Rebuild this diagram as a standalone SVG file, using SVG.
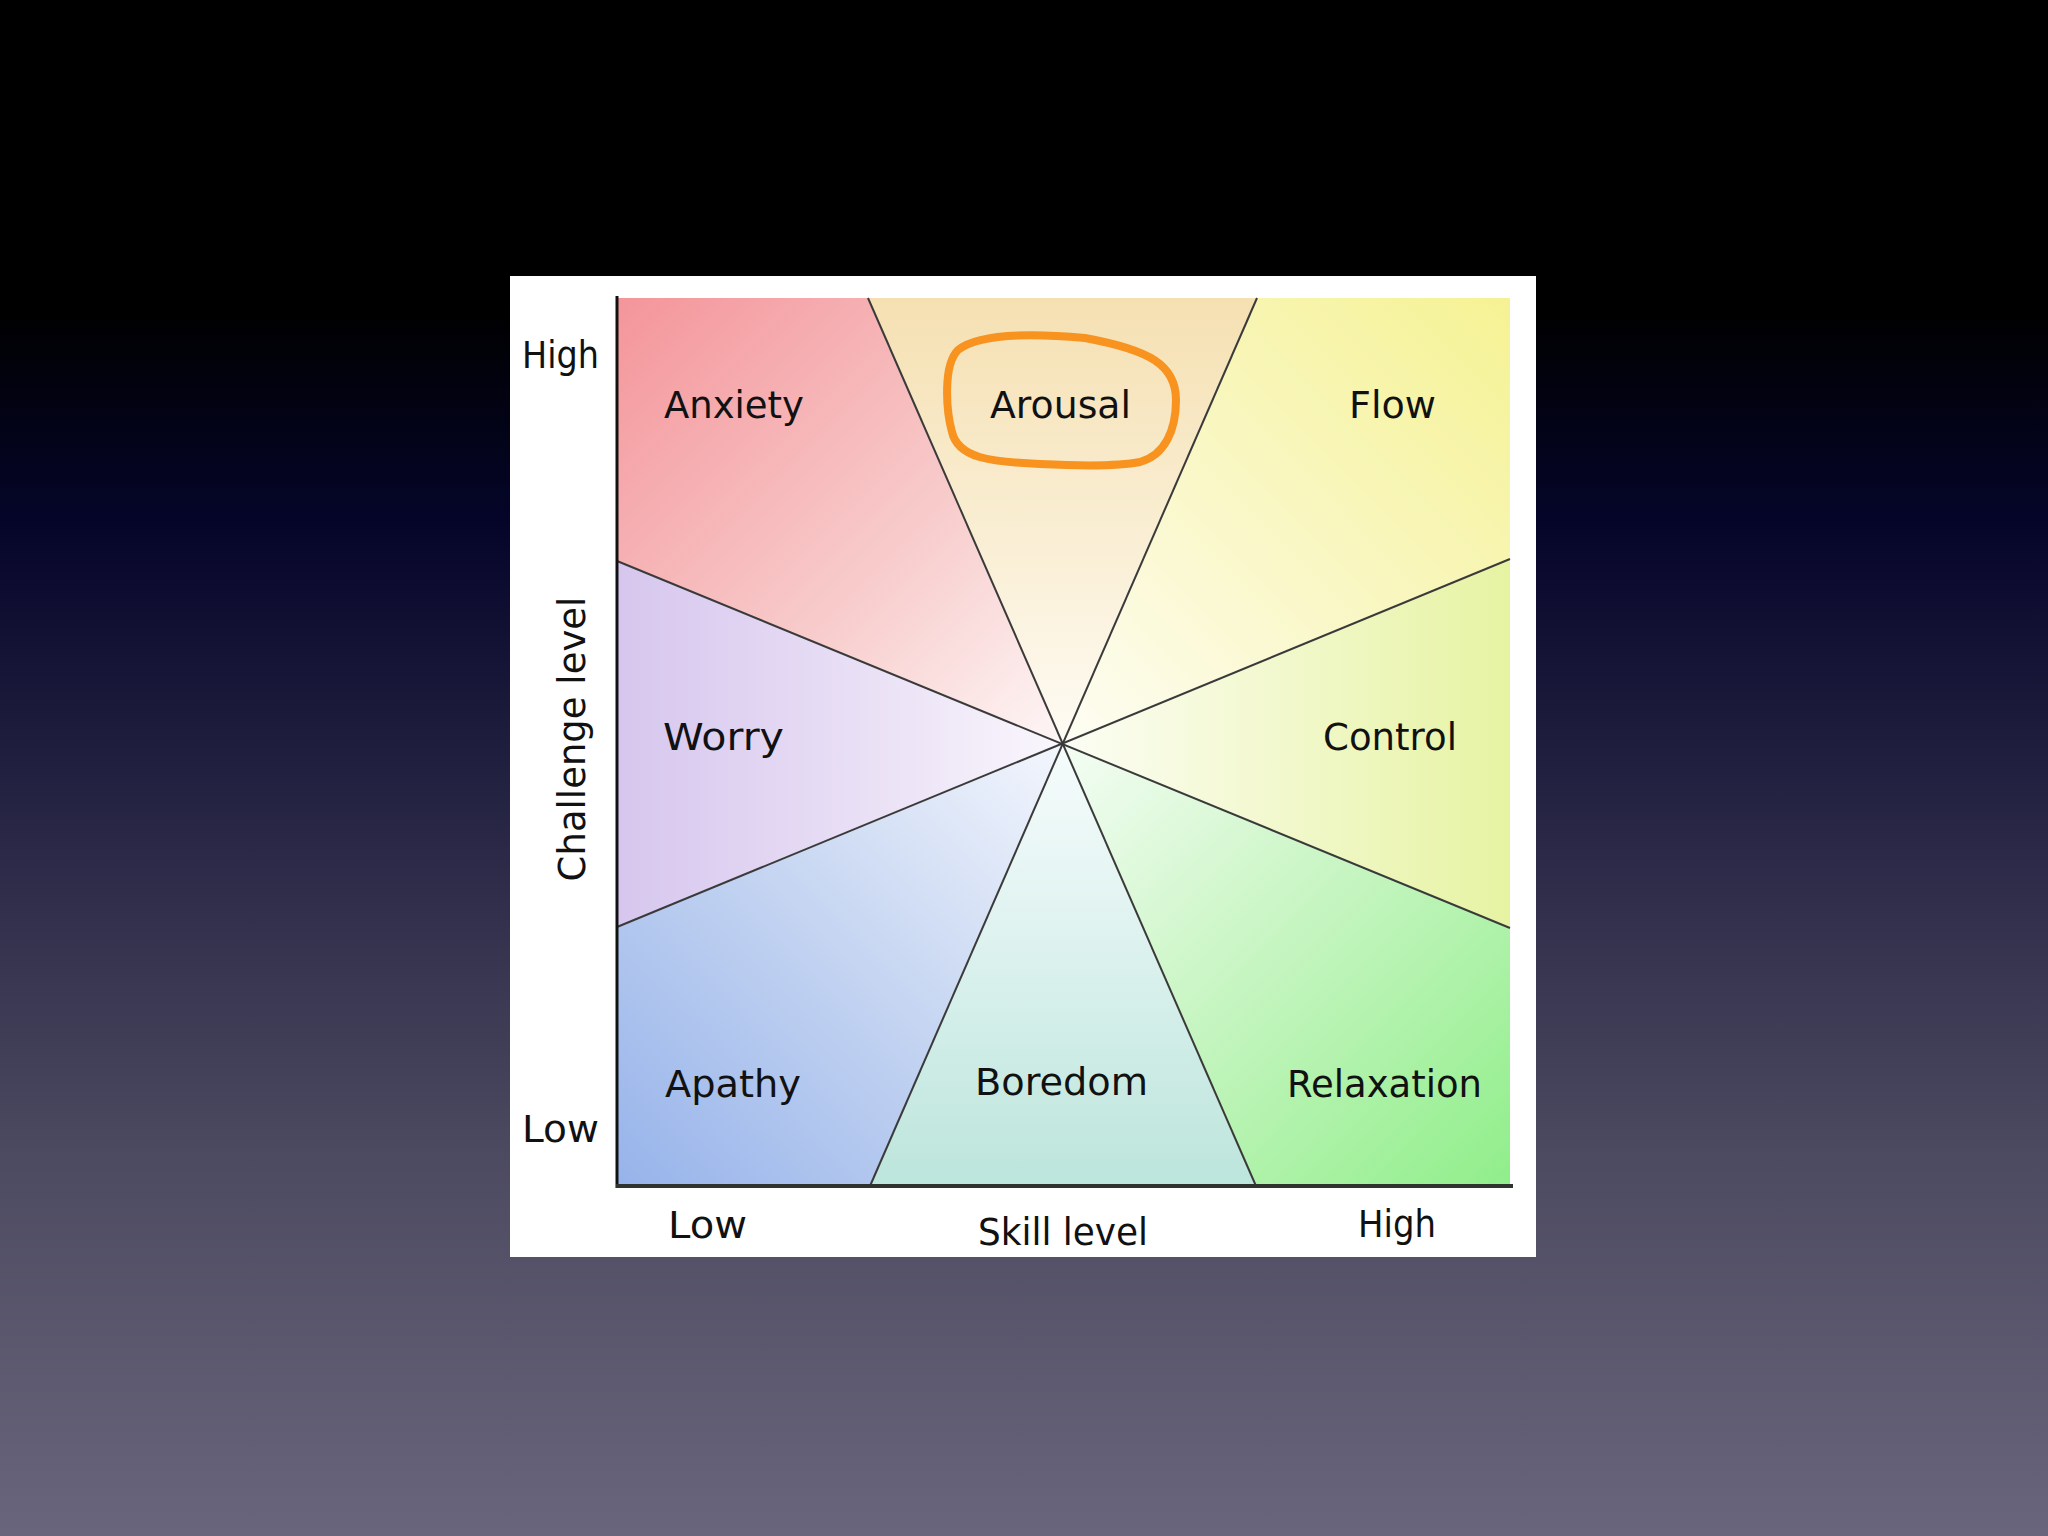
<svg xmlns="http://www.w3.org/2000/svg" width="2048" height="1536" viewBox="0 0 2048 1536">
<defs>
<linearGradient id="bg" x1="0" y1="0" x2="0" y2="1">
<stop offset="0" stop-color="#000000"/>
<stop offset="0.2" stop-color="#000000"/>
<stop offset="0.34" stop-color="#05052a"/>
<stop offset="0.55" stop-color="#2a2846"/>
<stop offset="0.75" stop-color="#4c4a60"/>
<stop offset="1" stop-color="#69657c"/>
</linearGradient>
<linearGradient id="gAnx" gradientUnits="userSpaceOnUse" x1="617" y1="298" x2="1063" y2="744"><stop offset="0" stop-color="#f4959a"/><stop offset="0.6" stop-color="#f8cccc"/><stop offset="1" stop-color="#fef6f6"/></linearGradient>
<linearGradient id="gAro" gradientUnits="userSpaceOnUse" x1="1063" y1="298" x2="1063" y2="744"><stop offset="0" stop-color="#f5e0b2"/><stop offset="0.6" stop-color="#faf0d8"/><stop offset="1" stop-color="#fefbf4"/></linearGradient>
<linearGradient id="gFlo" gradientUnits="userSpaceOnUse" x1="1510" y1="298" x2="1063" y2="744"><stop offset="0" stop-color="#f5f294"/><stop offset="0.6" stop-color="#faf8cc"/><stop offset="1" stop-color="#fefdf4"/></linearGradient>
<linearGradient id="gCon" gradientUnits="userSpaceOnUse" x1="1510" y1="744" x2="1063" y2="744"><stop offset="0" stop-color="#e6f3a2"/><stop offset="0.6" stop-color="#f4f9d4"/><stop offset="1" stop-color="#fcfdf4"/></linearGradient>
<linearGradient id="gRel" gradientUnits="userSpaceOnUse" x1="1510" y1="1186" x2="1063" y2="744"><stop offset="0" stop-color="#90ee8a"/><stop offset="0.6" stop-color="#cdf6c8"/><stop offset="1" stop-color="#f4fdf4"/></linearGradient>
<linearGradient id="gBor" gradientUnits="userSpaceOnUse" x1="1063" y1="1186" x2="1063" y2="744"><stop offset="0" stop-color="#bce5dc"/><stop offset="0.6" stop-color="#e0f3f0"/><stop offset="1" stop-color="#f6fcfc"/></linearGradient>
<linearGradient id="gApa" gradientUnits="userSpaceOnUse" x1="617" y1="1186" x2="1063" y2="744"><stop offset="0" stop-color="#96b3ea"/><stop offset="0.6" stop-color="#ccdaf3"/><stop offset="1" stop-color="#f3f6fd"/></linearGradient>
<linearGradient id="gWor" gradientUnits="userSpaceOnUse" x1="617" y1="744" x2="1063" y2="744"><stop offset="0" stop-color="#d6c6ee"/><stop offset="0.6" stop-color="#ebe2f6"/><stop offset="1" stop-color="#faf7fd"/></linearGradient>
</defs>
<style>
.lbl{font-family:"DejaVu Sans","Liberation Sans",sans-serif;font-size:37px;fill:#111;}
.div{stroke:#3a3a3a;stroke-width:2;fill:none;}
</style>
<rect x="0" y="0" width="2048" height="1536" fill="url(#bg)"/>
<rect x="510" y="276" width="1026" height="981" fill="#ffffff"/>
<g id="regions">
<g id="anxiety"><polygon points="617,298 868,298 1063,744 617,561" fill="url(#gAnx)"/><text class="lbl" x="664" y="418" textLength="140" lengthAdjust="spacingAndGlyphs">Anxiety</text></g>
<g id="arousal"><polygon points="868,298 1257,298 1063,744" fill="url(#gAro)"/><text class="lbl" x="990" y="418" textLength="141" lengthAdjust="spacingAndGlyphs">Arousal</text></g>
<g id="flow"><polygon points="1257,298 1510,298 1510,559 1063,744" fill="url(#gFlo)"/><text class="lbl" x="1349" y="418" textLength="87" lengthAdjust="spacingAndGlyphs">Flow</text></g>
<g id="control"><polygon points="1510,559 1510,928 1063,744" fill="url(#gCon)"/><text class="lbl" x="1323" y="750" textLength="134" lengthAdjust="spacingAndGlyphs">Control</text></g>
<g id="relaxation"><polygon points="1510,928 1510,1186 1255,1186 1063,744" fill="url(#gRel)"/><text class="lbl" x="1287" y="1097" textLength="195" lengthAdjust="spacingAndGlyphs">Relaxation</text></g>
<g id="boredom"><polygon points="1255,1186 870,1186 1063,744" fill="url(#gBor)"/><text class="lbl" x="975" y="1095" textLength="173" lengthAdjust="spacingAndGlyphs">Boredom</text></g>
<g id="apathy"><polygon points="870,1186 617,1186 617,927 1063,744" fill="url(#gApa)"/><text class="lbl" x="665" y="1097" textLength="136" lengthAdjust="spacingAndGlyphs">Apathy</text></g>
<g id="worry"><polygon points="617,927 617,561 1063,744" fill="url(#gWor)"/><text class="lbl" x="663" y="750" textLength="121" lengthAdjust="spacingAndGlyphs">Worry</text></g>
</g>
<g id="connectors">
<line class="div" x1="868" y1="298" x2="1256" y2="1186"/>
<line class="div" x1="1257" y1="298" x2="870" y2="1186"/>
<line class="div" x1="617" y1="561" x2="1510" y2="928"/>
<line class="div" x1="617" y1="927" x2="1510" y2="559"/>
<line x1="617" y1="296" x2="617" y2="1188" stroke="#111" stroke-width="3"/>
<line x1="616" y1="1186" x2="1513" y2="1186" stroke="#2e332e" stroke-width="4"/>
</g>
<g id="axis-labels">
<text class="lbl" x="522" y="368" textLength="77" lengthAdjust="spacingAndGlyphs">High</text>
<text class="lbl" x="522" y="1142" textLength="77" lengthAdjust="spacingAndGlyphs">Low</text>
<text class="lbl" x="668" y="1238" textLength="79" lengthAdjust="spacingAndGlyphs">Low</text>
<text class="lbl" x="978" y="1245" textLength="170" lengthAdjust="spacingAndGlyphs">Skill level</text>
<text class="lbl" x="1358" y="1237" textLength="78" lengthAdjust="spacingAndGlyphs">High</text>
<text class="lbl" x="585" y="739" text-anchor="middle" transform="rotate(-90 585 739)">Challenge level</text>
</g>
<g id="highlight">
<path d="M 1085 338 C 1030 333, 978 334, 958 350 C 943 365, 946 410, 952 432 C 958 458, 990 462, 1040 464 C 1080 466, 1120 466, 1140 462 C 1165 455, 1176 430, 1176 400 C 1176 365, 1150 350, 1085 338 Z" fill="none" stroke="#f7931e" stroke-width="8" stroke-linejoin="round"/>
</g>
</svg>
